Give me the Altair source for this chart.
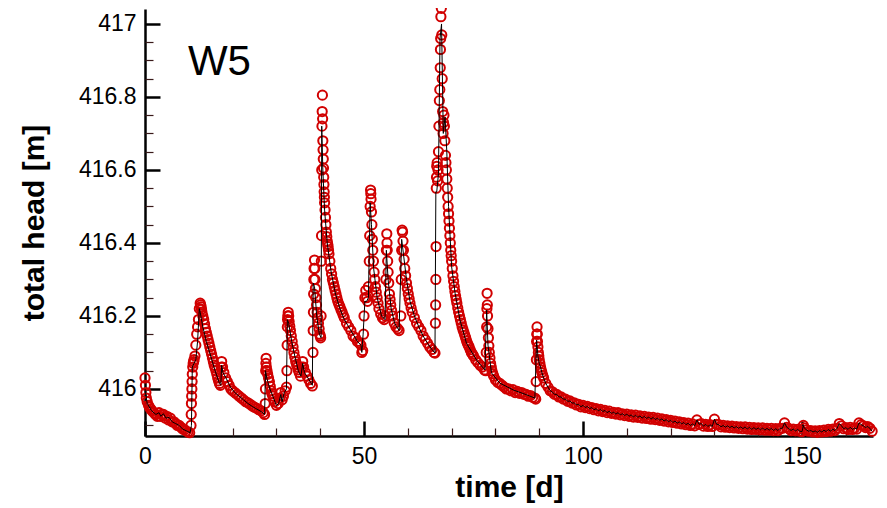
import altair as alt
import pandas as pd

# ---------------- data ----------------
# observed heads (red circles), t = 0 .. 90 d
obs_time_early = [
    0.0, 0.1, 0.2, 0.3, 0.5, 0.8, 1.0, 1.3, 1.6, 2.0,
    2.4, 2.8, 3.2, 3.5, 3.8, 4.2, 4.6, 5.0, 5.4, 5.8,
    6.2, 6.6, 7.0, 7.4, 7.8, 8.2, 8.6, 9.0, 9.4, 9.8,
    10.2, 10.5, 10.55, 10.6, 10.65, 10.7, 10.75, 10.8, 10.9, 11.0,
    11.1, 11.2, 11.4, 11.6, 11.8, 12.0, 12.2, 12.4, 12.6, 12.8,
    13.0, 13.4, 13.8, 14.2, 14.6, 15.0, 15.4, 15.8, 16.2, 16.6,
    17.0, 17.2, 17.4, 17.5, 17.7, 18.0, 18.4, 18.8, 19.2, 19.6,
    20.0, 20.5, 21.0, 21.5, 22.0, 22.5, 23.0, 23.5, 24.0, 24.5,
    25.0, 25.5, 26.0, 26.5, 27.0, 27.3, 27.45, 27.5, 27.55, 27.6,
    27.65, 27.7, 28.0, 28.4, 28.8, 29.2, 29.6, 30.0, 30.4, 30.8,
    31.0, 31.3, 31.6, 32.0, 32.3, 32.4, 32.45, 32.5, 32.55, 32.6,
    32.7, 32.9, 33.2, 33.6, 34.0, 34.4, 34.8, 35.2, 35.5, 35.8,
    36.0, 36.2, 36.6, 37.0, 37.4, 37.8, 38.2, 38.35, 38.4, 38.45,
    38.5, 38.55, 38.6, 38.7, 38.8, 39.0, 39.3, 39.6, 39.9, 40.1,
    40.2, 40.25, 40.3, 40.35, 40.4, 40.45, 40.5, 40.6, 40.7, 40.8,
    40.9, 41.0, 41.2, 41.4, 41.6, 41.8, 42.0, 42.4, 42.8, 43.2,
    43.6, 44.0, 44.5, 45.0, 45.5, 46.0, 46.5, 47.0, 47.5, 48.0,
    48.5, 49.0, 49.3, 49.5, 49.7, 49.9, 50.0, 50.2, 50.4, 50.6,
    50.8, 51.0, 51.2, 51.3, 51.4, 51.5, 51.6, 51.8, 52.0, 52.3,
    52.6, 53.0, 53.4, 53.8, 54.2, 54.6, 54.9, 55.0, 55.1, 55.2,
    55.3, 55.5, 55.8, 56.1, 56.5, 56.9, 57.3, 57.7, 58.0, 58.4,
    58.5, 58.6, 58.7, 58.8, 59.0, 59.3, 59.7, 60.1, 60.5, 61.0,
    61.5, 62.0, 62.5, 63.0, 63.5, 64.0, 64.5, 65.0, 65.5, 66.0,
    66.2, 66.3, 66.35, 66.4, 66.45, 66.5, 66.55, 66.6, 66.7, 66.8,
    66.9, 67.0, 67.1, 67.2, 67.3, 67.4, 67.45, 67.5, 67.55, 67.65,
    67.75, 67.85, 67.95, 68.05, 68.15, 68.25, 68.35, 68.45, 68.6, 68.8,
    69.0, 69.2, 69.4, 69.6, 69.8, 70.0, 70.3, 70.6, 70.9, 71.2,
    71.6, 72.0, 72.4, 72.8, 73.2, 73.6, 74.0, 74.5, 75.0, 75.5,
    76.0, 76.5, 77.0, 77.5, 77.8, 77.9, 78.0, 78.05, 78.1, 78.2,
    78.4, 78.6, 78.9, 79.2, 79.6, 80.0, 80.5, 81.0, 81.5, 82.0,
    82.5, 83.0, 83.5, 84.0, 84.5, 85.0, 85.5, 86.0, 86.5, 87.0,
    87.5, 88.0, 88.5, 89.0, 89.2, 89.3, 89.35, 89.4, 89.45, 89.5,
    89.6, 89.8, 90.0,
]
obs_head_early = [
    416.03, 416.01, 415.99, 415.975, 415.965, 415.955, 415.95, 415.945, 415.94, 415.935,
    415.93, 415.925, 415.935, 415.925, 415.93, 415.93, 415.92, 415.925, 415.915, 415.92,
    415.91, 415.91, 415.905, 415.9, 415.9, 415.895, 415.89, 415.888, 415.885, 415.882,
    415.88, 415.9, 415.93, 415.96, 415.98, 416.0, 416.02, 416.04, 416.06, 416.07,
    416.075, 416.08, 416.09, 416.12, 416.15, 416.17, 416.19, 416.22, 416.235, 416.225,
    416.21, 416.19, 416.165, 416.145, 416.125, 416.105, 416.085, 416.065, 416.05, 416.03,
    416.015, 416.01, 416.06, 416.075, 416.06, 416.045, 416.03, 416.02, 416.01, 416.0,
    415.995, 415.99, 415.985, 415.98, 415.975, 415.97, 415.965, 415.962, 415.958, 415.953,
    415.95, 415.947, 415.943, 415.94, 415.935, 415.93, 415.96, 416.0, 416.05, 416.07,
    416.084, 416.06, 416.04, 416.02, 415.995, 415.98, 415.965, 415.955, 415.96, 415.975,
    415.99, 415.97, 415.98, 415.995, 416.005, 416.05, 416.12, 416.17, 416.19, 416.2,
    416.21, 416.185, 416.16, 416.13, 416.1, 416.075, 416.06, 416.045, 416.035, 416.06,
    416.075, 416.06, 416.045, 416.035, 416.025, 416.015, 416.008, 416.1, 416.16, 416.21,
    416.26, 416.3, 416.33, 416.353, 416.3, 416.25, 416.21, 416.18, 416.15, 416.14,
    416.2, 416.35, 416.42, 416.6, 416.72, 416.76, 416.805, 416.68, 416.63, 416.58,
    416.54, 416.51, 416.47, 416.43, 416.405, 416.39, 416.37, 416.33, 416.3, 416.28,
    416.26, 416.24, 416.225, 416.21, 416.195, 416.18, 416.17, 416.16, 416.145, 416.14,
    416.13, 416.125, 416.12, 416.1, 416.105, 416.15, 416.2, 416.25, 416.27, 416.25,
    416.24, 416.28, 416.35, 416.42, 416.5, 416.545, 416.52, 416.45, 416.38, 416.32,
    416.28, 416.25, 416.22, 416.205, 416.195, 416.19, 416.2, 416.3, 416.38, 416.425,
    416.38, 416.32, 416.26, 416.23, 416.2, 416.18, 416.17, 416.165, 416.16, 416.2,
    416.3, 416.38, 416.435, 416.43, 416.38, 416.33, 416.29, 416.26, 416.235, 416.21,
    416.195, 416.18, 416.17, 416.16, 416.145, 416.135, 416.125, 416.115, 416.108, 416.1,
    416.098, 416.18, 416.23, 416.3, 416.39, 416.55, 416.58, 416.61, 416.62, 416.57,
    416.6, 416.65, 416.72, 416.79, 416.82, 416.88, 416.93, 416.96, 417.02, 417.043,
    416.97, 416.85, 416.76, 416.7, 416.73, 416.75, 416.72, 416.68, 416.64, 416.6,
    416.55, 416.5, 416.46, 416.42, 416.38, 416.35, 416.31, 416.28, 416.255, 416.235,
    416.21, 416.19, 416.17, 416.155, 416.14, 416.125, 416.115, 416.1, 416.09, 416.08,
    416.072, 416.065, 416.06, 416.052, 416.05, 416.1, 416.17, 416.22, 416.262, 416.2,
    416.14, 416.1, 416.07, 416.05, 416.035, 416.025, 416.018, 416.015, 416.01, 416.005,
    416.0, 416.0, 415.995, 415.998, 415.99, 415.993, 415.988, 415.99, 415.985, 415.985,
    415.98, 415.982, 415.977, 415.975, 415.972, 416.02, 416.08, 416.13, 416.15, 416.17,
    416.13, 416.1, 416.08,
]

# further observations read along the steep recessions
obs_time_extra = [
    12.7, 12.9, 13.2, 13.6, 14.0, 14.4, 14.8, 15.2, 15.6, 16.0,
    16.4, 16.8, 27.85, 28.2, 28.6, 29.0, 29.4, 32.8, 33.05, 33.4,
    33.8, 34.2, 34.6, 35.0, 38.75, 38.9, 39.15, 39.45, 39.75, 40.0,
    40.55, 40.65, 40.75, 40.85, 40.95, 41.1, 41.3, 41.5, 41.7, 41.9,
    42.2, 42.6, 43.0, 43.4, 43.8, 44.25, 44.75, 45.25, 51.55, 51.7,
    51.9, 52.15, 52.45, 52.8, 53.2, 55.25, 55.4, 55.65, 55.95, 56.3,
    58.9, 59.15, 59.5, 59.9, 60.3, 60.75, 68.7, 68.9, 69.1, 69.3,
    69.5, 69.7, 69.9, 70.15, 70.45, 70.75, 71.05, 71.4, 71.8, 72.2,
    72.6, 73.0, 73.4, 73.8, 74.25, 74.75, 78.15, 78.3, 78.5, 78.75,
    79.05, 79.4, 89.55, 89.7, 89.9, 90.15, 90.45, 90.8,
]
obs_head_extra = [
    416.23, 416.218, 416.2, 416.178, 416.155, 416.135, 416.115, 416.095, 416.075, 416.058,
    416.04, 416.022, 416.05, 416.03, 416.007, 415.987, 415.972, 416.2, 416.172, 416.145,
    416.115, 416.087, 416.067, 416.052, 416.33, 416.275, 416.23, 416.195, 416.165, 416.145,
    416.74, 416.655, 416.605, 416.56, 416.525, 416.49, 416.45, 416.417, 416.397, 416.38,
    416.35, 416.315, 416.29, 416.27, 416.25, 416.232, 416.217, 416.202, 416.535, 416.485,
    416.41, 416.35, 416.3, 416.265, 416.235, 416.4, 416.35, 416.29, 416.245, 416.215,
    416.405, 416.355, 416.31, 416.275, 416.247, 416.222, 416.62, 416.575, 416.525, 416.48,
    416.44, 416.4, 416.365, 416.33, 416.295, 416.267, 416.245, 416.222, 416.2, 416.18,
    416.162, 416.147, 416.132, 416.12, 416.107, 416.095, 416.23, 416.165, 416.118, 416.085,
    416.06, 416.042, 416.15, 416.115, 416.09, 416.07, 416.052, 416.037,
]

# simulated heads (black line), t = 0 .. 90 d
sim_time_early = [
    0.0, 0.5, 1.5, 2.5, 3.2, 3.6, 4.2, 4.8, 5.5, 6.2,
    7.0, 7.8, 8.6, 9.5, 10.3, 10.6, 10.8, 11.2, 11.6, 12.0,
    12.4, 12.6, 13.2, 14.0, 15.0, 16.0, 17.0, 17.3, 17.5, 17.8,
    18.5, 19.5, 20.5, 21.5, 22.5, 23.5, 24.5, 25.5, 26.5, 27.3,
    27.5, 27.8, 28.5, 29.2, 30.0, 30.5, 31.0, 31.3, 31.8, 32.3,
    32.5, 32.8, 33.5, 34.2, 35.0, 35.6, 36.0, 36.4, 37.2, 38.2,
    38.4, 38.7, 39.2, 39.8, 40.2, 40.35, 40.6, 41.0, 41.6, 42.5,
    43.5, 44.5, 45.5, 46.5, 47.5, 48.5, 49.3, 49.5, 49.8, 50.2,
    50.6, 51.0, 51.4, 51.7, 52.2, 53.0, 54.0, 54.8, 55.1, 55.5,
    56.2, 57.0, 58.0, 58.6, 59.0, 59.7, 60.5, 61.5, 62.5, 63.5,
    64.5, 65.5, 66.2, 66.4, 66.6, 67.0, 67.35, 67.7, 68.1, 68.5,
    68.9, 69.3, 70.0, 70.8, 71.9, 73.4, 75.7, 77.6, 78.0, 78.3,
    79.1, 81.0, 84.1, 87.1, 89.0, 89.4, 89.7, 90.0,
]
sim_head_early = [
    416.0, 415.96, 415.94, 415.93, 415.935, 415.925, 415.932, 415.92, 415.922, 415.91,
    415.905, 415.9, 415.89, 415.885, 415.88, 415.9, 416.06, 416.07, 416.08, 416.13,
    416.22, 416.21, 416.17, 416.13, 416.09, 416.05, 416.015, 416.01, 416.065, 416.045,
    416.03, 416.005, 415.99, 415.98, 415.97, 415.96, 415.952, 415.945, 415.938, 415.93,
    416.05, 416.03, 416.0, 415.98, 415.955, 415.96, 415.985, 415.965, 415.99, 416.0,
    416.19, 416.18, 416.13, 416.09, 416.05, 416.035, 416.07, 416.045, 416.03, 416.01,
    416.29, 416.28, 416.2, 416.15, 416.14, 416.72, 416.6, 416.49, 416.4, 416.32,
    416.26, 416.22, 416.19, 416.17, 416.15, 416.13, 416.12, 416.1, 416.15, 416.24,
    416.24, 416.25, 416.51, 416.45, 416.33, 416.25, 416.2, 416.19, 416.38, 416.3,
    416.22, 416.18, 416.16, 416.41, 416.37, 416.3, 416.24, 416.2, 416.17, 416.145,
    416.125, 416.108, 416.098, 416.54, 416.54, 416.59, 416.96, 417.0, 416.7, 416.745,
    416.65, 416.5, 416.335, 416.262, 416.189, 416.125, 416.079, 416.052, 416.216, 416.12,
    416.044, 416.016, 415.997, 415.984, 415.975, 416.134, 416.09, 416.07,
]

# recession tail, t = 90.3 .. 166 d (circles and line coincide)
late_time = [
    90.3, 90.6, 91.0, 91.5, 92.0, 92.5, 93.0, 93.5, 94.0, 94.5,
    95.0, 95.5, 96.0, 96.5, 97.0, 97.5, 98.0, 98.5, 99.0, 99.5,
    100.0, 100.5, 101.0, 101.5, 102.0, 102.5, 103.0, 103.5, 104.0, 104.5,
    105.0, 105.5, 106.0, 106.5, 107.0, 107.5, 108.0, 108.5, 109.0, 109.5,
    110.0, 110.5, 111.0, 111.5, 112.0, 112.5, 113.0, 113.5, 114.0, 114.5,
    115.0, 115.5, 116.0, 116.5, 117.0, 117.5, 118.0, 118.5, 119.0, 119.5,
    120.0, 120.5, 121.0, 121.5, 122.0, 122.5, 123.0, 123.5, 124.0, 124.5,
    125.0, 125.5, 126.0, 126.5, 127.0, 127.5, 128.0, 128.5, 129.0, 129.5,
    130.0, 130.5, 131.0, 131.5, 132.0, 132.5, 133.0, 133.5, 134.0, 134.5,
    135.0, 135.5, 136.0, 136.5, 137.0, 137.5, 138.0, 138.5, 139.0, 139.5,
    140.0, 140.5, 141.0, 141.5, 142.0, 142.5, 143.0, 143.5, 144.0, 144.5,
    145.0, 145.5, 146.0, 146.5, 147.0, 147.5, 148.0, 148.5, 149.0, 149.5,
    150.0, 150.3, 150.5, 151.0, 151.5, 152.0, 152.5, 153.0, 153.5, 154.0,
    154.5, 155.0, 155.5, 156.0, 156.5, 157.0, 157.5, 158.0, 158.5, 159.0,
    159.5, 160.0, 160.5, 161.0, 161.5, 162.0, 162.5, 163.0, 163.5, 164.0,
    164.5, 165.0, 165.5, 166.0,
]
late_head = [
    416.06, 416.045, 416.03, 416.015, 416.005, 415.995, 415.992, 415.985, 415.985, 415.978,
    415.978, 415.972, 415.972, 415.966, 415.967, 415.961, 415.962, 415.956, 415.958, 415.951,
    415.955, 415.949, 415.952, 415.946, 415.949, 415.943, 415.946, 415.940, 415.944, 415.938,
    415.941, 415.935, 415.939, 415.933, 415.936, 415.931, 415.935, 415.929, 415.932, 415.927,
    415.931, 415.925, 415.929, 415.923, 415.928, 415.922, 415.926, 415.920, 415.925, 415.919,
    415.923, 415.917, 415.922, 415.916, 415.920, 415.914, 415.918, 415.912, 415.916, 415.910,
    415.914, 415.908, 415.912, 415.906, 415.910, 415.904, 415.908, 415.902, 415.906, 415.900,
    415.904, 415.899, 415.915, 415.903, 415.905, 415.898, 415.903, 415.897, 415.902, 415.897,
    415.917, 415.903, 415.902, 415.896, 415.900, 415.895, 415.899, 415.894, 415.898, 415.893,
    415.897, 415.892, 415.896, 415.891, 415.896, 415.890, 415.895, 415.889, 415.894, 415.889,
    415.893, 415.888, 415.893, 415.887, 415.892, 415.887, 415.892, 415.886, 415.891, 415.886,
    415.892, 415.892, 415.907, 415.895, 415.891, 415.886, 415.890, 415.885, 415.889, 415.884,
    415.883, 415.900, 415.893, 415.888, 415.884, 415.886, 415.882, 415.885, 415.881, 415.886,
    415.882, 415.887, 415.883, 415.889, 415.884, 415.890, 415.886, 415.892, 415.905, 415.899,
    415.891, 415.894, 415.889, 415.895, 415.889, 415.893, 415.890, 415.907, 415.902, 415.899,
    415.894, 415.897, 415.892, 415.884,
]

x_major = [0, 50, 100, 150]
x_minor = [10, 20, 30, 40, 60, 70, 80, 90, 110, 120, 130, 140, 160]
y_major = [416.0, 416.2, 416.4, 416.6, 416.8, 417.0]
y_minor = [415.9, 415.95, 416.05, 416.1, 416.15, 416.25, 416.3, 416.35,
           416.45, 416.5, 416.55, 416.65, 416.7, 416.75, 416.85, 416.9, 416.95]

label_text = ["W5"]
label_time = [9.8]
label_head = [416.86]

# ---------------- chart ----------------
obs = pd.DataFrame({"time": obs_time_early + obs_time_extra + late_time,
                    "head": obs_head_early + obs_head_extra + late_head})
sim = pd.DataFrame({"time": sim_time_early + late_time,
                    "head": sim_head_early + late_head})
lab = pd.DataFrame({"time": label_time, "head": label_head, "text": label_text})

W, H = 728, 427
FONT = "Liberation Sans"
xs = alt.Scale(domain=[0, 166.2], nice=False, zero=False)
ys = alt.Scale(domain=[415.871, 417.041], nice=False, zero=False)

# main axes: domain, labels, titles
x_main = alt.Axis(orient="bottom", values=x_major, format="d", ticks=False, tickSize=0,
                  grid=False, domainColor="black", domainWidth=2.5,
                  labelFont=FONT, labelFontSize=23, labelColor="black", labelPadding=9,
                  labelFlush=False,
                  titleFont=FONT, titleFontSize=30, titleFontWeight="bold", titleColor="black",
                  titleX=W / 2, titleY=60, titleAlign="center", titleBaseline="alphabetic")
y_main = alt.Axis(orient="left", values=y_major, format=".4~r", ticks=False, tickSize=0,
                  grid=False, domainColor="black", domainWidth=2.5,
                  labelFont=FONT, labelFontSize=23, labelColor="black", labelPadding=9,
                  labelFlush=False,
                  titleFont=FONT, titleFontSize=30, titleFontWeight="bold", titleColor="black",
                  titleAngle=270, titleX=-102, titleY=H / 2, titleAlign="center",
                  titleBaseline="alphabetic")

# inward major ticks
x_maj = alt.Axis(orient="top", offset=-H, values=x_major, labels=False, domain=False,
                 grid=False, ticks=True, tickSize=15, tickWidth=2.5, tickColor="black")
y_maj = alt.Axis(orient="right", offset=-W, values=y_major, labels=False, domain=False,
                 grid=False, ticks=True, tickSize=15, tickWidth=2.5, tickColor="black")
# inward minor ticks
x_min = alt.Axis(orient="top", offset=-H, values=x_minor, labels=False, domain=False,
                 grid=False, ticks=True, tickSize=8, tickWidth=1.2, tickColor="#3a1a1a")
y_min = alt.Axis(orient="right", offset=-W, values=y_minor, labels=False, domain=False,
                 grid=False, ticks=True, tickSize=8, tickWidth=1.2, tickColor="#3a1a1a")

points = alt.Chart(obs).mark_point(
    shape="circle", filled=False, stroke="#d10000", strokeWidth=2.0, size=85, opacity=1
).encode(
    x=alt.X("time:Q", scale=xs, axis=x_main, title="time [d]"),
    y=alt.Y("head:Q", scale=ys, axis=y_main, title="total head [m]"),
)

line = alt.Chart(sim).mark_line(color="black", strokeWidth=1).encode(
    x=alt.X("time:Q", scale=xs, axis=x_maj, title=None),
    y=alt.Y("head:Q", scale=ys, axis=y_maj, title=None),
)

text = alt.Chart(lab).mark_text(
    align="left", baseline="alphabetic", font=FONT, fontSize=42, color="black"
).encode(
    x=alt.X("time:Q", scale=xs, axis=x_min, title=None),
    y=alt.Y("head:Q", scale=ys, axis=y_min, title=None),
    text="text:N",
)

chart = alt.layer(points, line, text).resolve_axis(
    x="independent", y="independent"
).properties(
    width=W, height=H,
    autosize=alt.AutoSizeParams(type="none"),
    padding={"left": 137, "top": 1, "right": 6, "bottom": 70},
    background="white",
).configure_view(strokeWidth=0)

chart.save("out.html", embed_options={"renderer": "svg", "actions": False})
